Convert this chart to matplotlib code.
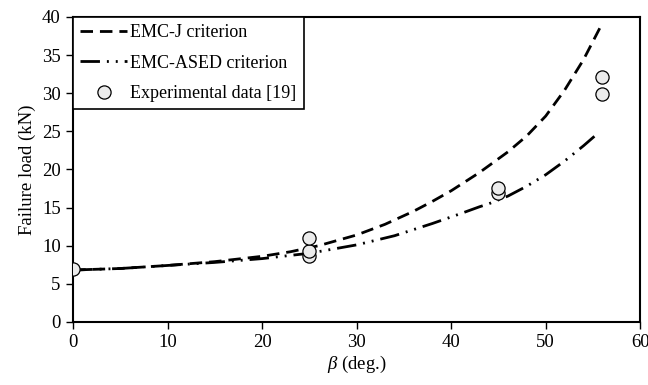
import numpy as np
import matplotlib
matplotlib.use("Agg")
import matplotlib.pyplot as plt

plt.rcParams['font.family'] = ['Liberation Serif', 'DejaVu Serif']
plt.rcParams['mathtext.fontset'] = 'custom'
plt.rcParams['mathtext.it'] = 'Liberation Serif:italic'
plt.rcParams['mathtext.rm'] = 'Liberation Serif'

# EMC-J criterion curve
beta_j = [0, 5, 10, 15, 20, 23, 26, 30, 33, 36, 38, 40, 43, 46, 48, 50, 52, 54, 56]
load_j = [6.8, 7.0, 7.4, 7.9, 8.6, 9.2, 10.0, 11.4, 12.8, 14.5, 15.8, 17.2, 19.6,
          22.3, 24.4, 27.0, 30.4, 34.4, 39.2]

# EMC-ASED criterion curve
beta_a = [0, 5, 10, 15, 20, 25, 30, 34, 38, 41, 43, 44, 46, 48, 50, 52, 54, 55.3]
load_a = [6.8, 7.0, 7.4, 7.8, 8.3, 9.0, 10.1, 11.3, 12.9, 14.2, 15.1, 15.5, 16.5,
          17.8, 19.3, 21.1, 23.1, 24.5]

# experimental data [19]
beta_exp = [0, 25, 25, 25, 45, 45, 56, 56]
load_exp = [6.9, 8.7, 9.3, 11.0, 16.9, 17.6, 29.9, 32.1]

fig = plt.figure(figsize=(6.48, 3.85), dpi=100)
ax = fig.add_axes([0.113, 0.164, 0.875, 0.792])

ax.plot(beta_j, load_j, color='black', lw=2, linestyle=(0, (4.5, 2.5)),
        label='EMC-J criterion')
ax.plot(beta_a, load_a, color='black', lw=2, linestyle=(0, (7, 2.5, 0.7, 2.5, 0.7, 2.5)),
        label='EMC-ASED criterion')
ax.plot(beta_exp, load_exp, linestyle='none', marker='o', markersize=9.5,
        markerfacecolor='#ececec', markeredgecolor='black', markeredgewidth=0.9,
        label='Experimental data [19]', zorder=5)

ax.set_xlim(0, 60)
ax.set_ylim(0, 40)
ax.set_xticks(range(0, 61, 10))
ax.set_yticks(range(0, 41, 5))
ax.tick_params(direction='out', length=5, width=1, labelsize=13.5, colors='black', pad=4)
for s in ax.spines.values():
    s.set_linewidth(1.5)
    s.set_color('black')

ax.set_xlabel(r'$\it{\beta}$ (deg.)', fontsize=13.5, labelpad=2)
ax.set_ylabel('Failure load (kN)', fontsize=13.5, labelpad=4)

leg = ax.legend(loc='upper left', fontsize=13, frameon=True, fancybox=False,
                borderaxespad=0, handlelength=2.6, handletextpad=0.15,
                labelspacing=0.75, borderpad=0.4,
                edgecolor='black', framealpha=1)
leg.get_frame().set_linewidth(1.2)

fig.savefig('out.png', dpi=100)
